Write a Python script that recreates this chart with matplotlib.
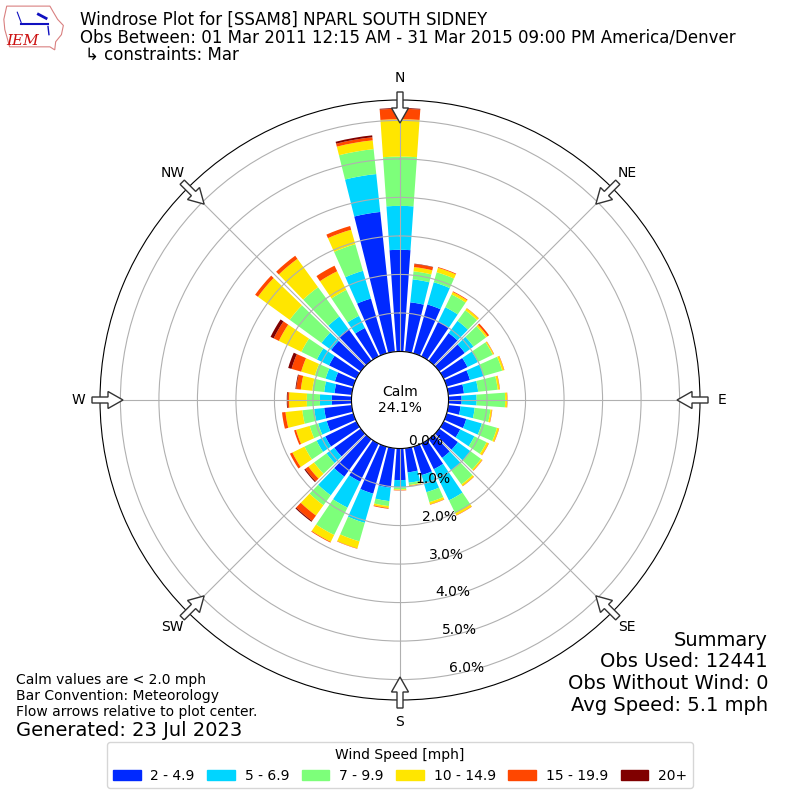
import numpy as np
import matplotlib.pyplot as plt
from matplotlib.patches import Patch, FancyArrow, Polygon

# kierunki (co 10 stopni) i przedzialy predkosci
directions = np.arange(0, 360, 10)
speed_labels = ["2 - 4.9", "5 - 6.9", "7 - 9.9", "10 - 14.9", "15 - 19.9", "20+"]

# skumulowane procenty (gorna krawedz kazdego przedzialu), kierunki 0..350
cum_2 = [2.64, 1.29, 1.32, 1.00, 0.89, 0.82, 0.69, 0.63, 0.41, 0.34, 0.32, 0.53,
         0.48, 0.60, 0.60, 0.74, 0.77, 0.63, 0.82, 1.03, 1.27, 1.10, 1.20, 0.85,
         0.90, 0.72, 0.72, 0.51, 0.45, 0.50, 0.79, 0.95, 1.02, 0.82, 1.48, 3.65]
cum_5 = [3.78, 1.89, 1.92, 1.42, 1.28, 1.10, 0.99, 1.00, 0.78, 0.73, 0.69, 0.95,
         0.89, 1.00, 1.00, 1.64, 1.23, 0.90, 1.01, 1.38, 2.06, 1.85, 1.80, 1.10,
         1.15, 0.95, 0.98, 0.82, 0.72, 0.75, 1.14, 1.26, 1.42, 1.17, 2.23, 4.64]
cum_7 = [5.06, 2.10, 2.19, 1.79, 1.62, 1.50, 1.42, 1.50, 1.29, 1.47, 1.10, 1.36,
         1.24, 1.34, 1.45, 2.00, 1.50, 0.96, 1.06, 1.51, 2.56, 2.64, 2.12, 1.50,
         1.50, 1.18, 1.29, 1.16, 1.03, 1.04, 1.59, 2.28, 2.36, 1.92, 2.95, 5.29]
cum_10 = [6.03, 2.21, 2.31, 1.86, 1.68, 1.55, 1.45, 1.55, 1.34, 1.52, 1.14, 1.41,
          1.30, 1.38, 1.50, 2.07, 1.56, 0.98, 1.08, 1.56, 2.75, 2.84, 2.45, 1.68,
          1.85, 1.55, 1.73, 1.62, 1.33, 1.41, 2.24, 3.30, 3.27, 2.46, 3.34, 5.52]
cum_15 = [6.30, 2.29, 2.33, 1.88, 1.69, 1.60, 1.46, 1.56, 1.35, 1.53, 1.15, 1.42,
          1.31, 1.39, 1.51, 2.08, 1.57, 0.99, 1.09, 1.58, 2.76, 2.86, 2.62, 1.78,
          1.92, 1.60, 1.82, 1.66, 1.45, 1.67, 2.39, 3.39, 3.37, 2.62, 3.44, 5.60]
cum_20 = [6.32, 2.30, 2.33, 1.88, 1.69, 1.60, 1.46, 1.56, 1.35, 1.53, 1.15, 1.42,
          1.31, 1.39, 1.51, 2.08, 1.57, 0.99, 1.09, 1.58, 2.76, 2.86, 2.65, 1.81,
          1.92, 1.60, 1.82, 1.68, 1.47, 1.76, 2.48, 3.39, 3.37, 2.62, 3.44, 5.65]

calm_pct = 24.1
rticks = [0, 1, 2, 3, 4, 5, 6]
compass = ["N", "NE", "E", "SE", "S", "SW", "W", "NW"]


def main():
    fig = plt.figure(figsize=(8, 8), dpi=100)
    ax = fig.add_axes([0.125, 0.125, 0.75, 0.75], projection="polar")
    ax.set_theta_zero_location("N")
    ax.set_theta_direction(-1)
    ax.set_ylim(0, 6.53)
    ax.set_rorigin(-1.26)

    colors = plt.get_cmap("jet")(np.linspace(1 / 6, 1, 6))
    layers = [cum_2, cum_5, cum_7, cum_10, cum_15, cum_20]
    theta = np.radians(directions)
    width = np.radians(8)
    prev = np.zeros(len(directions))
    for tops, col in zip(layers, colors):
        tops = np.array(tops)
        ax.bar(theta, tops - prev, width=width, bottom=prev, color=col,
               linewidth=0, zorder=1)
        prev = tops

    ax.set_rticks(rticks)
    ax.set_yticklabels([f"{v:.1f}%" for v in rticks], fontsize=10)
    ax.set_rlabel_position(170)
    ax.set_xticks(np.radians(np.arange(0, 360, 45)))
    ax.set_xticklabels(compass, fontsize=10)
    ax.tick_params(axis="x", pad=5)

    ax.text(0.5, 0.5, f"Calm\n{calm_pct:.1f}%", transform=ax.transAxes,
            ha="center", va="center", fontsize=10)

    # strzalki przeplywu na krawedzi
    for b in np.radians(np.arange(0, 360, 45)):
        sx, sy = np.sin(b), np.cos(b)
        x0 = (400 + 308 * sx) / 800
        y0 = (400 + 308 * sy) / 800
        L = 31 / 800
        arr = FancyArrow(x0, y0, -L * sx, -L * sy, width=6 / 800,
                         head_width=17 / 800, head_length=15 / 800,
                         length_includes_head=True, transform=fig.transFigure,
                         fc="white", ec="#333333", lw=1, zorder=5)
        fig.add_artist(arr)

    # naglowek
    fig.text(0.1, 0.975, "Windrose Plot for [SSAM8] NPARL SOUTH SIDNEY",
             fontsize=12, va="center")
    fig.text(0.1, 0.9525,
             "Obs Between: 01 Mar 2011 12:15 AM - 31 Mar 2015 09:00 PM America/Denver",
             fontsize=12, va="center")
    fig.text(0.106, 0.931, "\u21b3 constraints: Mar", fontsize=12, va="center")

    # logo IEM (uproszczone)
    lax = fig.add_axes([0.0, 0.93, 0.09, 0.07])
    lax.set_xlim(0, 75)
    lax.set_ylim(55, 0)
    lax.axis("off")
    iowa = [(7, 6), (52, 6), (55, 11), (60, 19), (66, 25), (64, 34), (58, 41),
            (57, 49), (52, 46), (10, 46), (8, 39), (5, 29), (4, 19)]
    lax.add_patch(Polygon(iowa, closed=True, fill=False, ec="#d98080", lw=0.8))
    lax.plot([22, 50], [24, 24], color="#1010c0", lw=1.5)
    lax.plot([18, 22], [12, 22], color="#1010c0", lw=0.8)
    lax.plot([40, 48], [14, 18], color="#1010c0", lw=2)
    lax.plot([50, 51], [26, 34], color="#1010c0", lw=1)
    lax.text(24, 40, "IEM", color="#cc1010", fontsize=11, family="DejaVu Serif",
             style="italic", ha="center", va="center")

    # opis u dolu po lewej
    fig.text(0.02, 1 - 680 / 800, "Calm values are < 2.0 mph", fontsize=10, va="center")
    fig.text(0.02, 1 - 696 / 800, "Bar Convention: Meteorology", fontsize=10, va="center")
    fig.text(0.02, 1 - 712 / 800, "Flow arrows relative to plot center.", fontsize=10,
             va="center")
    fig.text(0.02, 1 - 730 / 800, "Generated: 23 Jul 2023", fontsize=14, va="center")

    # podsumowanie
    summary = ["Summary", "Obs Used: 12441", "Obs Without Wind: 0", "Avg Speed: 5.1 mph"]
    for i, s in enumerate(summary):
        fig.text(0.96, 1 - (640 + 21.7 * i) / 800, s, fontsize=14, ha="right",
                 va="center")

    handles = [Patch(color=c) for c in colors]
    fig.legend(handles, speed_labels, loc="lower center", ncol=6,
               bbox_to_anchor=(0.5, 0.006), title="Wind Speed [mph]",
               fontsize=10, title_fontsize=10, columnspacing=0.9,
               handletextpad=0.7)

    fig.savefig("out.png", dpi=100)


if __name__ == "__main__":
    main()
